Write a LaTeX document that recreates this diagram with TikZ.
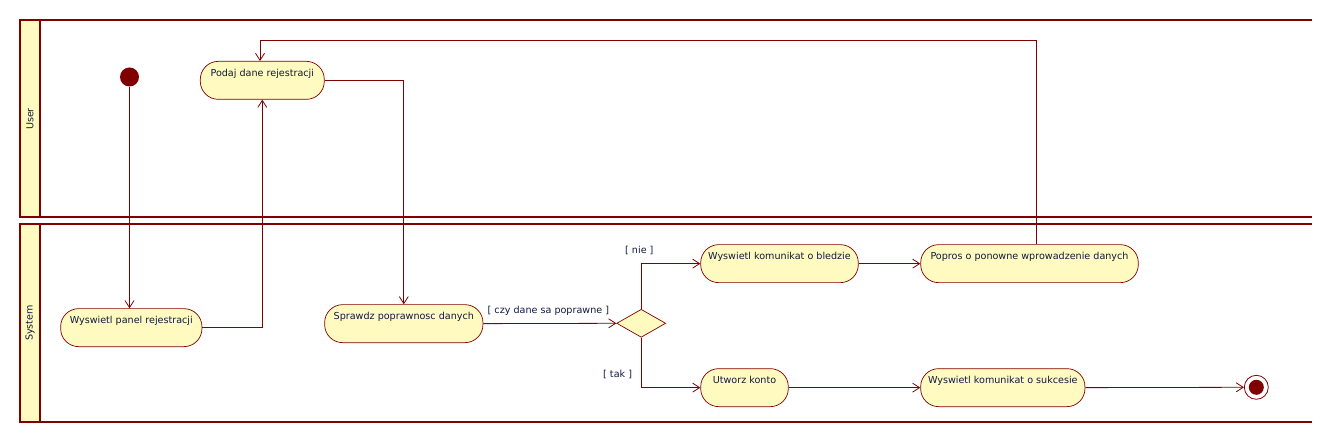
\documentclass[tikz,border=0pt]{standalone}
\usepackage{fontspec}
\setmainfont{DejaVu Sans}
\usetikzlibrary{arrows.meta,shapes.geometric}
\definecolor{umlred}{RGB}{128,0,0}
\definecolor{umlfill}{RGB}{255,251,192}
\definecolor{umltext}{RGB}{16,24,64}
\tikzset{
  act/.style={draw=umlred, fill=umlfill, line width=0.7pt, rounded corners=18pt, minimum height=38pt,
    inner xsep=0pt, inner ysep=0pt, text height=15pt, text depth=23pt,
    font=\fontsize{9.6}{11}\selectfont, text=umltext, anchor=north},
  flow/.style={draw=umlred, line width=0.8pt, -{Straight Barb[length=7pt,width=9pt,line width=0.8pt]}},
  lane/.style={draw=umlred, line width=2pt},
  hdr/.style={draw=umlred, fill=umlfill, line width=2pt},
  guard/.style={font=\fontsize{9.6}{11}\selectfont, text=umltext, inner sep=0pt},
  lanelabel/.style={font=\fontsize{9.6}{11}\selectfont, text=umltext, rotate=90, inner sep=0pt}
}
\begin{document}
\begin{tikzpicture}[x=1pt,y=-1pt]
\useasboundingbox (0,0) rectangle (1332,443);
% swimlanes
\draw[hdr] (20,20) rectangle (40,217.3);
\draw[lane] (40,20) -- (1312,20);
\draw[lane] (40,217.3) -- (1312,217.3);
\draw[hdr] (20,224) rectangle (40,421.7);
\draw[lane] (40,224) -- (1312,224);
\draw[lane] (40,421.7) -- (1312,421.7);
\node[lanelabel] (luser) at (30,119) {User};
\node[lanelabel] (lsystem) at (30,323) {System};
% nodes
\node[circle, fill=umlred, minimum size=19pt, inner sep=0pt] (init) at (129.5,77) {};
\node[act, minimum width=124pt] (podaj) at (262.3,61) {Podaj dane rejestracji};
\node[act, minimum width=141.3pt] (panel) at (131.3,308.3) {Wyswietl panel rejestracji};
\node[act, minimum width=158.3pt] (sprawdz) at (403.8,304.3) {Sprawdz poprawnosc danych};
\node[diamond, draw=umlred, fill=umlfill, line width=0.7pt, aspect=1.75, minimum width=49pt, minimum height=28pt, inner sep=0pt] (dec) at (641.2,323.3) {};
\node[act, minimum width=157.6pt] (bledzie) at (779.5,244.3) {Wyswietl komunikat o bledzie};
\node[act, minimum width=87.6pt] (utworz) at (744.5,368.3) {Utworz konto};
\node[act, minimum width=217.6pt] (popros) at (1029.5,244.3) {Popros o ponowne wprowadzenie danych};
\node[act, minimum width=164.3pt] (sukces) at (1002.8,368.3) {Wyswietl komunikat o sukcesie};
\node[circle, draw=umlred, fill=white, line width=0.8pt, minimum size=24pt, inner sep=0pt] (final) at (1256.3,387.3) {};
\node[circle, fill=umlred, minimum size=15pt, inner sep=0pt] (finalin) at (final.center) {};
% connectors
\draw[flow] (init) -- (init |- panel.north);
\draw[flow] (panel.east) -| (podaj.south);
\draw[flow] (podaj.east) -| (sprawdz.north);
\draw[flow] (sprawdz.east) -- (dec.west);
\node[guard, anchor=base west] (gczy) at (487.5,313.5) {[ czy dane sa poprawne ]};
\draw[flow] (dec.north) |- (bledzie.west);
\node[guard, anchor=base west] (gnie) at (625,254) {[ nie ]};
\draw[flow] (dec.south) |- (utworz.west);
\node[guard, anchor=base west] (gtak) at (603,377.5) {[ tak ]};
\draw[flow] (bledzie.east) -- (popros.west);
\coordinate (lpA) at (1036.7,244.3);
\coordinate (lpB) at (1036.7,40);
\coordinate (lpC) at (260,40);
\draw[flow] (lpA) -- (lpB) -- (lpC) -- (podaj.north -| lpC);
\draw[flow] (utworz.east) -- (sukces.west);
\draw[flow] (sukces.east) -- (final.west);
\end{tikzpicture}
\end{document}
